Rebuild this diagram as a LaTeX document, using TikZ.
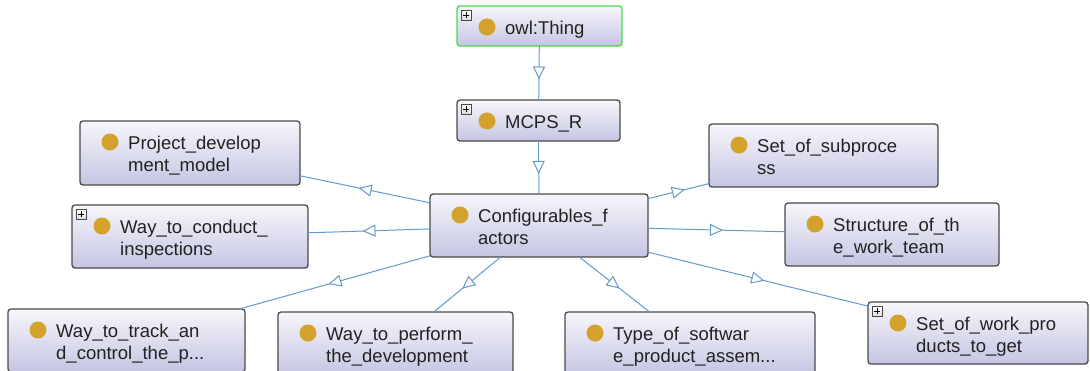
\documentclass[tikz,border=0pt]{standalone}
\usepackage{fontspec}
\setmainfont{Liberation Sans}
\usetikzlibrary{arrows.meta,decorations.markings,calc}

\definecolor{edgeblue}{HTML}{6499CE}
\definecolor{boxline}{HTML}{4A4A4A}
\definecolor{boxtop}{HTML}{F6F6FB}
\definecolor{boxbottom}{HTML}{C5C5E3}
\definecolor{bulletgold}{HTML}{D4A22C}
\definecolor{thinggreen}{HTML}{4CD94C}
\definecolor{labelink}{HTML}{222222}

\tikzset{
  clsbox/.style={rectangle, rounded corners=3pt, draw=boxline, line width=1.3pt,
    top color=boxtop, bottom color=boxbottom, inner sep=0pt, outer sep=0pt},
  rootbox/.style={clsbox, draw=thinggreen, line width=1.4pt},
  clstext/.style={anchor=base west, inner sep=0pt, text=labelink,
    font=\fontsize{18.5}{22}\selectfont},
  bullet/.style={fill=bulletgold},
  expander/.style={rectangle, draw=boxline, line width=0.8pt, top color=white,
    bottom color=black!15, minimum size=10pt, inner sep=0pt, anchor=north west},
  isa/.style={draw=edgeblue, line width=1pt, postaction={decorate},
    decoration={markings, mark=at position 0.5 with
      {\arrow[xshift=6.5pt]{Triangle[length=13pt,width=12pt,fill=white,line width=1pt]}}}}
}

% class box: name, left, top, right, bottom, first line, second line, box style
\newcommand\classbox[8]{%
  \node[#8, minimum width={#4-#2}, minimum height={#5-#3}] (#1) at ({(#2+#4)/2},{(#3+#5)/2}) {};
  \fill[bullet] ({#2+30},{#3+21}) circle (8.5);
  \node[clstext] (#1-a) at ({#2+48},{#3+28}) {#6};
  \if\relax\detokenize{#7}\relax\else
    \node[clstext] (#1-b) at ({#2+48},{#3+50}) {#7};
  \fi
}
% small expand marker in the upper left corner of a box
\newcommand\expandmark[3]{%
  \node[expander] (#1-x) at ({#2+4},{#3+4}) {};
  \draw[line width=1.1pt, black] ($(#1-x.center)+(-3,0)$) -- ($(#1-x.center)+(3,0)$);
  \draw[line width=1.1pt, black] ($(#1-x.center)+(0,-3)$) -- ($(#1-x.center)+(0,3)$);
}

\begin{document}
\begin{tikzpicture}[x=1pt, y=-1pt]
  \useasboundingbox (0,0) rectangle (1090,370);
  \clip (0,0) rectangle (1090,370);

  \classbox{thing}{457}{6}{622}{46}{owl:Thing}{}{rootbox}
  \expandmark{thing}{457}{6}
  \classbox{mcps}{457}{100}{620}{141}{MCPS\_R}{}{clsbox}
  \expandmark{mcps}{457}{100}
  \classbox{cf}{430}{194}{648}{257}{Configurables\_f}{actors}{clsbox}

  \classbox{pdm}{80}{121}{300}{185}{Project\_develop}{ment\_model}{clsbox}
  \classbox{wci}{72}{205}{308}{268}{Way\_to\_conduct\_}{inspections}{clsbox}
  \expandmark{wci}{72}{205}
  \classbox{sos}{709}{124}{938}{187}{Set\_of\_subproce}{ss}{clsbox}
  \classbox{swt}{785}{203}{999}{266}{Structure\_of\_th}{e\_work\_team}{clsbox}

  \classbox{wtc}{8}{309}{245}{372}{Way\_to\_track\_an}{d\_control\_the\_p...}{clsbox}
  \classbox{wpd}{278}{312}{513}{375}{Way\_to\_perform\_}{the\_development}{clsbox}
  \classbox{tsp}{565}{312}{815}{375}{Type\_of\_softwar}{e\_product\_assem...}{clsbox}
  \classbox{swp}{868}{302}{1088}{364}{Set\_of\_work\_pro}{ducts\_to\_get}{clsbox}
  \expandmark{swp}{868}{302}

  \draw[isa] (thing) -- (mcps);
  \draw[isa] (mcps) -- (cf);
  \foreach \child in {pdm,wci,wtc,wpd,tsp,swp,swt,sos}
    \draw[isa] (cf) -- (\child);
\end{tikzpicture}
\end{document}
